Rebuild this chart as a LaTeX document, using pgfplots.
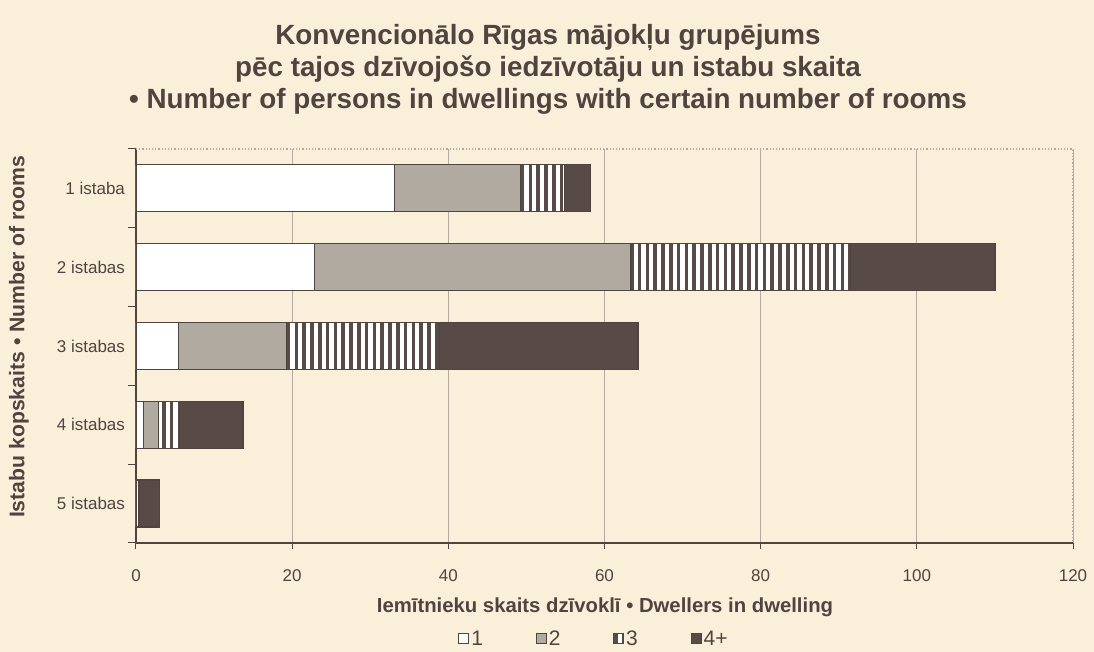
\documentclass[border=0pt]{standalone}
\usepackage{pgfplots}
\pgfplotsset{compat=1.18}
\usepackage{fontspec}
\setmainfont{Liberation Sans}
\usetikzlibrary{patterns.meta}
\definecolor{bg}{RGB}{250,239,216}
\definecolor{ink}{RGB}{80,68,64}
\definecolor{stip}{RGB}{176,170,160}
\definecolor{darkfill}{RGB}{88,74,70}
\definecolor{gridc}{RGB}{178,170,160}

\begin{document}
\begin{tikzpicture}[font=\fontsize{9}{11}\selectfont, text=ink]
\fill[bg] (-68pt,-54.5pt) rectangle (479pt,271.5pt);
\begin{axis}[at={(0,0)}, anchor=south west, scale only axis,
  width=468.5pt, height=197pt,
  xbar stacked, bar width=23.5pt,
  xmin=0, xmax=120, ymin=0.5, ymax=5.5,
  xtick={0,20,...,120}, ytick={1,...,5},
  yticklabels={5 istabas,4 istabas,3 istabas,2 istabas,1 istaba},
  minor ytick={0.5,1.5,...,5.5},
  axis x line*=bottom, axis y line*=left,
  axis line style={draw=ink, line width=0.6pt, -},
  tick align=outside, major tick length=3pt, minor tick length=4pt,
  tick style={draw=ink, line width=0.5pt},
  major y tick style={draw=none},
  xmajorgrids, major x grid style={gridc, line width=0.4pt},
  /pgf/number format/assume math mode=true,
  ticklabel style={font=\fontsize{8.5}{11}\selectfont, text=ink},
  xticklabel style={yshift=-7pt},
  yticklabel style={xshift=1pt},
  every axis plot/.append style={draw=ink, line width=0.6pt},
  legend image code/.code={\draw[#1, line width=0.5pt] (0pt,-1.6pt) rectangle (5pt,3.4pt);},
  legend columns=4,
  legend style={draw=none, fill=none, at={(0.3437,-0.246)}, anchor=west,
    inner sep=0pt, column sep=0pt, nodes={inner sep=1pt},
    font=\fontsize{10.5}{11}\selectfont, text=ink},
]
\addplot[fill=white] coordinates {(0.3,1)(1.0,2)(5.4,3)(22.9,4)(33.1,5)};
\addlegendentry{\makebox[31.2pt][l]{1}}
\addplot[fill=stip] coordinates {(0,1)(1.9,2)(13.9,3)(40.5,4)(16.1,5)};
\addlegendentry{\makebox[31.2pt][l]{2}}
\addplot[fill=white, postaction={pattern={Lines[angle=90,distance=3.9pt,line width=1.8pt]}, pattern color=darkfill}]
  coordinates {(0.1,1)(2.7,2)(19.6,3)(28.1,4)(5.7,5)};
\addlegendentry{\makebox[31.2pt][l]{3}}
\addplot[fill=darkfill] coordinates {(2.6,1)(8.1,2)(25.4,3)(18.5,4)(3.3,5)};
\addlegendentry{\makebox[31.2pt][l]{4+}}
\draw[gridc, densely dotted, line width=0.6pt] (rel axis cs:0,1) -- (rel axis cs:1,1) -- (rel axis cs:1,0);
\end{axis}
\node[align=center, font=\bfseries\fontsize{13.9}{16}\selectfont] at (206pt,237pt)
  {Konvencionālo Rīgas mājokļu grupējums\\pēc tajos dzīvojošo iedzīvotāju un istabu skaita\\• Number of persons in dwellings with certain number of rooms};
\node[rotate=90, font=\bfseries\fontsize{10.6}{12}\selectfont] at (-58.5pt,103pt)
  {Istabu kopskaits • Number of rooms};
\node[font=\bfseries\fontsize{10.15}{12}\selectfont] at (234.5pt,-32pt)
  {Iemītnieku skaits dzīvoklī • Dwellers in dwelling};
\end{tikzpicture}
\end{document}
